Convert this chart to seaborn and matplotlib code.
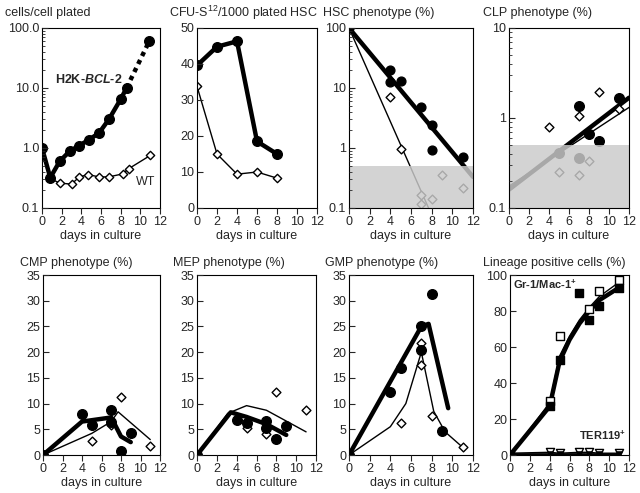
import numpy as np
import pandas as pd
import seaborn as sns
import matplotlib.pyplot as plt
from matplotlib.ticker import FixedLocator, LogLocator, NullFormatter, FixedFormatter

# cells/cell plated
cells_bcl_x = [0, 0.84, 1.8, 2.8, 3.8, 4.8, 5.8, 6.8, 8.0, 8.6]
cells_bcl_y = [1.0, 0.32, 0.6, 0.88, 1.1, 1.38, 1.78, 3.0, 6.5, 10.0]
cells_ext_x = [8.6, 10.9]
cells_ext_y = [10.0, 60.0]
cells_wt_x = [0.84, 1.8, 3.0, 3.8, 4.7, 5.8, 6.8, 8.2, 8.8, 11.0]
cells_wt_y = [0.31, 0.26, 0.25, 0.33, 0.36, 0.33, 0.33, 0.37, 0.45, 0.75]

# CFU-S12
cfu_days = [0, 2, 4, 6, 8]
cfu_bcl = [39.6, 44.8, 46.3, 18.5, 15.0]
cfu_wt = [33.8, 15.0, 9.4, 10.0, 8.3]

# HSC phenotype
hsc_bcl_x = [0, 4, 4, 5, 7, 8, 8, 11]
hsc_bcl_y = [100, 19.7, 12.6, 12.9, 4.8, 2.45, 0.91, 0.72]
hsc_wt_x = [4, 5, 7, 7, 8, 9, 11]
hsc_wt_y = [7.1, 0.97, 0.167, 0.115, 0.143, 0.36, 0.215]
hsc_bcl_fit_x = [0, 12]
hsc_bcl_fit_y = [100, 0.33]
hsc_wt_fit_x = [0, 7.7]
hsc_wt_fit_y = [100, 0.1]

# CLP phenotype
clp_bcl_x = [5, 7, 7, 8, 9, 11]
clp_bcl_y = [0.41, 1.37, 0.36, 0.66, 0.56, 1.68]
clp_wt_x = [4, 5, 7, 7, 8, 9, 11]
clp_wt_y = [0.80, 0.25, 1.04, 0.23, 0.33, 1.93, 1.25]
clp_bcl_fit_x = [0, 12]
clp_bcl_fit_y = [0.16, 1.68]
clp_wt_fit_x = [0, 12]
clp_wt_fit_y = [0.175, 1.31]

# CMP phenotype
cmp_bcl_x = [0, 4, 5, 7, 7, 8, 9]
cmp_bcl_y = [0, 8.0, 5.8, 8.75, 6.5, 0.8, 4.3]
cmp_wt_x = [5, 7, 8, 11]
cmp_wt_y = [2.8, 5.8, 11.3, 1.8]
cmp_bcl_line_x = [0, 4, 7, 8, 9]
cmp_bcl_line_y = [0, 6.5, 7.3, 3.6, 2.5]
cmp_wt_line_x = [0, 5, 7, 7.7, 11]
cmp_wt_line_y = [0, 4.2, 6.5, 8.4, 3.0]

# MEP phenotype
mep_bcl_x = [0, 4, 5, 7, 7, 8, 9]
mep_bcl_y = [0, 6.9, 6.3, 6.7, 5.3, 3.1, 5.7]
mep_wt_x = [5, 7, 8, 11]
mep_wt_y = [5.2, 4.0, 12.3, 8.7]
mep_bcl_line_x = [0, 3.4, 5, 7, 9]
mep_bcl_line_y = [0, 8.3, 7.4, 6.0, 3.9]
mep_wt_line_x = [0, 3.1, 5, 7, 11]
mep_wt_line_y = [0, 8.1, 9.6, 8.7, 4.5]

# GMP phenotype
gmp_bcl_x = [0, 4, 5, 7, 7, 8, 9]
gmp_bcl_y = [0, 12.3, 17.0, 25.1, 20.5, 31.3, 4.7]
gmp_wt_x = [5, 7, 7, 8, 11]
gmp_wt_y = [6.2, 21.8, 17.5, 7.6, 1.5]
gmp_bcl_line_x = [0, 7, 7.7, 9.6]
gmp_bcl_line_y = [0, 25, 25.5, 9.1]
gmp_wt_line_x = [0, 4, 5.5, 7, 8.2, 9.3, 11]
gmp_wt_line_y = [0, 5.5, 10, 20, 8.5, 4.5, 1.5]

# Lineage positive cells
lin_bcl_x = [0, 4, 5, 7, 8, 9, 11]
lin_bcl_y = [0, 27, 53, 90, 75, 83, 93]
lin_wt_x = [4, 5, 8, 9, 11]
lin_wt_y = [30, 66, 81, 91, 97]
lin_bcl_line_x = [0, 4, 5, 6, 7, 8, 9, 11]
lin_bcl_line_y = [0, 27, 52, 64, 73, 80, 86, 93]
lin_wt_line_x = [0, 4, 5, 6, 7, 8, 9, 11]
lin_wt_line_y = [0, 29, 55, 66, 75, 82, 88, 96]
ter_x = [0, 4, 5, 7, 8, 9, 11]
ter_wt_y = [1.0, 1.5, 1.0, 1.5, 1.5, 1.0, 1.0]
ter_bcl_y = [0.5, 0.5, 0.5, 0.5, 0.5, 0.5, 0.5]

sns.set_style("ticks")
plt.rcParams['font.family'] = ['Liberation Sans', 'DejaVu Sans']
plt.rcParams['mathtext.fontset'] = 'custom'
plt.rcParams['mathtext.rm'] = 'Liberation Sans'
plt.rcParams['mathtext.it'] = 'Liberation Sans:italic'
plt.rcParams['mathtext.bf'] = 'Liberation Sans:bold'
plt.rcParams['mathtext.bfit'] = 'Liberation Sans:italic:bold'
FS = 9

W, H = 640, 493
fig = plt.figure(figsize=(W / 100, H / 100), dpi=100)


def make_ax(l, r, t, b):
    return fig.add_axes([l / W, 1 - b / H, (r - l) / W, (b - t) / H])


def style(ax, log=False, ylim=None, yticks=None, ylabels=None):
    ax.set_xlim(0, 12)
    ax.set_xticks(range(0, 13, 2))
    ax.set_ylim(*ylim)
    if log:
        ax.set_yscale('log')
        ax.yaxis.set_minor_locator(LogLocator(base=10, subs=np.arange(2, 10)))
        ax.yaxis.set_minor_formatter(NullFormatter())
    ax.yaxis.set_major_locator(FixedLocator(yticks))
    if ylabels is not None:
        ax.yaxis.set_major_formatter(FixedFormatter(ylabels))
    ax.tick_params(axis='x', direction='out', length=4, width=0.8, labelsize=FS, pad=1.5)
    ax.tick_params(axis='y', which='major', direction='in', length=4, width=0.8, labelsize=FS, pad=2)
    ax.tick_params(axis='y', which='minor', direction='in', length=2, width=0.6)
    for s in ax.spines.values():
        s.set_linewidth(0.8)
        s.set_color('black')
        s.set_zorder(20)
    ax.xaxis.set_zorder(20)
    ax.yaxis.set_zorder(20)
    ax.set_xlabel('days in culture', fontsize=FS, labelpad=2)
    ax.set_ylabel('')
    ax.grid(False)


def line(ax, x, y, lw, ls='-'):
    sns.lineplot(x=x, y=y, ax=ax, color='black', lw=lw, ls=ls, sort=False,
                 estimator=None, zorder=3)


def dots(ax, x, y, marker='o', s=42, filled=True, z=4):
    sns.scatterplot(x=x, y=y, ax=ax, marker=marker, s=s,
                    color='black' if filled else 'white',
                    edgecolor='black', linewidth=1.0, zorder=z)


def shade(ax):
    ax.axhspan(0.1, 0.5, color=(0.795, 0.795, 0.795), alpha=0.83, lw=0, zorder=10)


# ---------- top row
ax1 = make_ax(42, 160, 28, 208)
style(ax1, log=True, ylim=(0.1, 100), yticks=[0.1, 1, 10, 100],
      ylabels=['0.1', '1.0', '10.0', '100.0'])
line(ax1, cells_wt_x, cells_wt_y, 1.0)
dots(ax1, cells_wt_x[1:], cells_wt_y[1:], marker='D', s=18, filled=False)
line(ax1, cells_bcl_x, cells_bcl_y, 3.2)
line(ax1, cells_ext_x, cells_ext_y, 3.2, ls=(0, (1.0, 1.0)))
dots(ax1, cells_bcl_x + cells_ext_x[1:], cells_bcl_y + cells_ext_y[1:], s=48)
ax1.text(1.3, 13.6, r'H2K-$\mathbfit{BCL}$-2', fontweight='bold', fontsize=FS,
         ha='left', va='center')
ax1.text(9.6, 0.27, 'WT', fontsize=FS, ha='left', va='center')

ax2 = make_ax(197, 317, 28, 208)
style(ax2, ylim=(0, 50), yticks=[0, 10, 20, 30, 40, 50])
line(ax2, cfu_days, cfu_wt, 1.0)
dots(ax2, cfu_days, cfu_wt, marker='D', s=18, filled=False)
line(ax2, cfu_days, cfu_bcl, 3.2)
dots(ax2, cfu_days, cfu_bcl, s=48)

ax3 = make_ax(349, 473, 28, 208)
style(ax3, log=True, ylim=(0.1, 100), yticks=[0.1, 1, 10, 100],
      ylabels=['0.1', '1', '10', '100'])
line(ax3, hsc_wt_fit_x, hsc_wt_fit_y, 1.0)
line(ax3, hsc_bcl_fit_x, hsc_bcl_fit_y, 3.2)
dots(ax3, hsc_wt_x, hsc_wt_y, marker='D', s=20, filled=False)
dots(ax3, hsc_bcl_x, hsc_bcl_y, s=40)
shade(ax3)

ax4 = make_ax(509, 629, 28, 208)
style(ax4, log=True, ylim=(0.1, 10), yticks=[0.1, 1, 10],
      ylabels=['0.1', '1', '10'])
line(ax4, clp_wt_fit_x, clp_wt_fit_y, 1.0)
line(ax4, clp_bcl_fit_x, clp_bcl_fit_y, 3.2)
dots(ax4, clp_wt_x, clp_wt_y, marker='D', s=20, filled=False)
dots(ax4, clp_bcl_x, clp_bcl_y, s=48)
shade(ax4)

# ---------- bottom row
ax5 = make_ax(43, 160, 275, 455)
style(ax5, ylim=(0, 35), yticks=[0, 5, 10, 15, 20, 25, 30, 35])
line(ax5, cmp_wt_line_x, cmp_wt_line_y, 1.0)
line(ax5, cmp_bcl_line_x, cmp_bcl_line_y, 3.2)
dots(ax5, cmp_wt_x, cmp_wt_y, marker='D', s=20, filled=False)
dots(ax5, cmp_bcl_x, cmp_bcl_y, s=48)

ax6 = make_ax(197, 316, 275, 455)
style(ax6, ylim=(0, 35), yticks=[0, 5, 10, 15, 20, 25, 30, 35])
line(ax6, mep_wt_line_x, mep_wt_line_y, 1.0)
line(ax6, mep_bcl_line_x, mep_bcl_line_y, 3.2)
dots(ax6, mep_wt_x, mep_wt_y, marker='D', s=20, filled=False)
dots(ax6, mep_bcl_x, mep_bcl_y, s=48)

ax7 = make_ax(349, 473, 275, 455)
style(ax7, ylim=(0, 35), yticks=[0, 5, 10, 15, 20, 25, 30, 35])
line(ax7, gmp_wt_line_x, gmp_wt_line_y, 1.0)
line(ax7, gmp_bcl_line_x, gmp_bcl_line_y, 3.2)
dots(ax7, gmp_wt_x, gmp_wt_y, marker='D', s=20, filled=False)
dots(ax7, gmp_bcl_x, gmp_bcl_y, s=48)

ax8 = make_ax(510, 629, 275, 455)
style(ax8, ylim=(0, 100), yticks=[0, 20, 40, 60, 80, 100])
line(ax8, ter_x, ter_wt_y, 1.0)
line(ax8, ter_x, ter_bcl_y, 2.0)
dots(ax8, ter_x[1:], ter_wt_y[1:], marker='v', s=34, filled=False)
dots(ax8, ter_x[1:], ter_bcl_y[1:], marker='v', s=14)
line(ax8, lin_wt_line_x, lin_wt_line_y, 1.0)
line(ax8, lin_bcl_line_x, lin_bcl_line_y, 3.2)
dots(ax8, lin_wt_x, lin_wt_y, marker='s', s=40, filled=False)
dots(ax8, lin_bcl_x, lin_bcl_y, marker='s', s=40)
ax8.text(0.35, 95, r'Gr-1/Mac-1$^{\mathbf{+}}$', fontweight='bold', fontsize=8,
         ha='left', va='center')
ax8.text(7.0, 11, r'TER119$^{\mathbf{+}}$', fontweight='bold', fontsize=8,
         ha='left', va='center')

# ---------- panel titles
titles_top = [(5, 'cells/cell plated'), (169, r'CFU-S$^{12}$/1000 plated HSC'),
              (323, 'HSC phenotype (%)'), (483, 'CLP phenotype (%)')]
titles_bot = [(20, 'CMP phenotype (%)'), (173, 'MEP phenotype (%)'),
              (325, 'GMP phenotype (%)'), (483, 'Lineage positive cells (%)')]
for x, t in titles_top:
    fig.text(x / W, 1 - 13 / H, t, fontsize=FS, ha='left', va='center')
for x, t in titles_bot:
    fig.text(x / W, 1 - 263 / H, t, fontsize=FS, ha='left', va='center')

fig.savefig('out.png', dpi=100)
